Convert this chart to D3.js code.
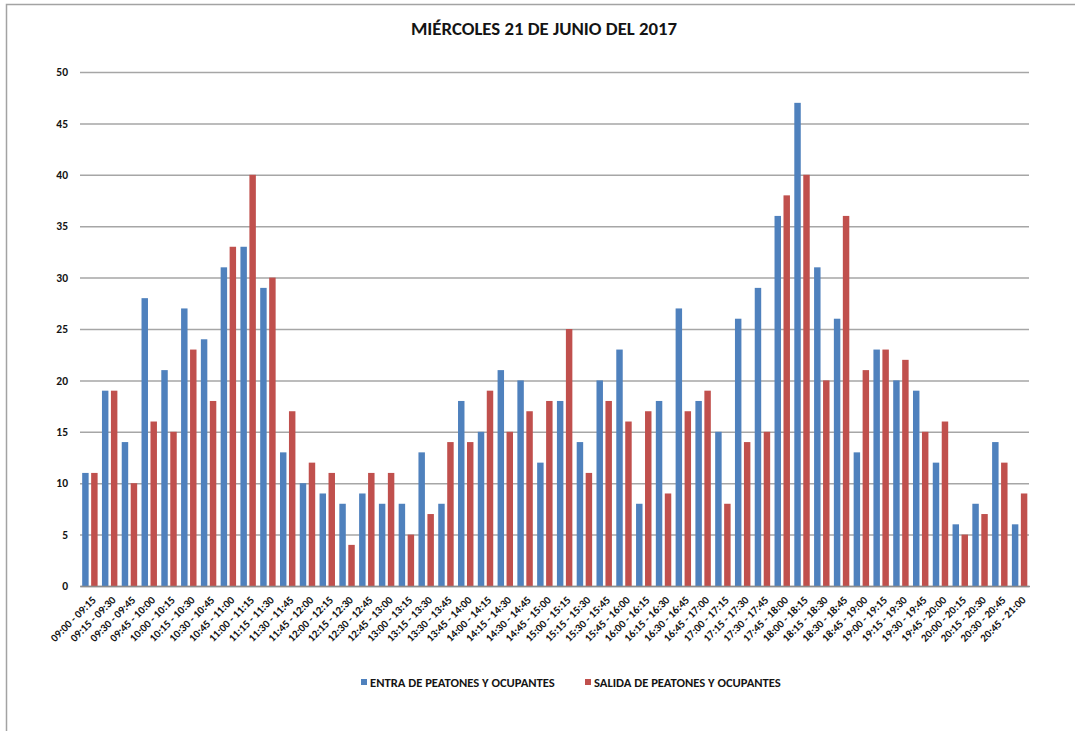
<!DOCTYPE html>
<html>
<head>
<meta charset="utf-8">
<script src="https://cdn.jsdelivr.net/npm/d3@7"></script>
<style>
  body { margin: 0; background: #fff; }
  svg text { font-family: Carlito, "Liberation Sans Narrow", "DejaVu Sans Condensed", sans-serif; font-weight: bold; fill: #141414; }
</style>
</head>
<body>
<div class="canvas"></div>
<script>
const categories = [
  '09:00 - 09:15', '09:15 - 09:30', '09:30 - 09:45', '09:45 - 10:00',
  '10:00 - 10:15', '10:15 - 10:30', '10:30 - 10:45', '10:45 - 11:00',
  '11:00 - 11:15', '11:15 - 11:30', '11:30 - 11:45', '11:45 - 12:00',
  '12:00 - 12:15', '12:15 - 12:30', '12:30 - 12:45', '12:45 - 13:00',
  '13:00 - 13:15', '13:15 - 13:30', '13:30 - 13:45', '13:45 - 14:00',
  '14:00 - 14:15', '14:15 - 14:30', '14:30 - 14:45', '14:45 - 15:00',
  '15:00 - 15:15', '15:15 - 15:30', '15:30 - 15:45', '15:45 - 16:00',
  '16:00 - 16:15', '16:15 - 16:30', '16:30 - 16:45', '16:45 - 17:00',
  '17:00 - 17:15', '17:15 - 17:30', '17:30 - 17:45', '17:45 - 18:00',
  '18:00 - 18:15', '18:15 - 18:30', '18:30 - 18:45', '18:45 - 19:00',
  '19:00 - 19:15', '19:15 - 19:30', '19:30 - 19:45', '19:45 - 20:00',
  '20:00 - 20:15', '20:15 - 20:30', '20:30 - 20:45', '20:45 - 21:00'
];

// entrada de peatones y ocupantes
const entrada = [11, 19, 14, 28, 21, 27, 24, 31, 33, 29, 13, 10,
                 9, 8, 9, 8, 8, 13, 8, 18, 15, 21, 20, 12,
                 18, 14, 20, 23, 8, 18, 27, 18, 15, 26, 29, 36,
                 47, 31, 26, 13, 23, 20, 19, 12, 6, 8, 14, 6];

// salida de peatones y ocupantes
const salida = [11, 19, 10, 16, 15, 23, 18, 33, 40, 30, 17, 12,
                11, 4, 11, 11, 5, 7, 14, 14, 19, 15, 17, 18,
                25, 11, 18, 16, 17, 9, 17, 19, 8, 14, 15, 38,
                40, 20, 36, 21, 23, 22, 15, 16, 5, 7, 12, 9];

const yTicks = [0, 5, 10, 15, 20, 25, 30, 35, 40, 45, 50];
const seriesNames = ['ENTRA DE PEATONES Y OCUPANTES', 'SALIDA DE PEATONES Y OCUPANTES'];
const seriesKeys = ['entrada', 'salida'];
const colours = ['#4f81bd', '#c0504d'];

const width = 1075, height = 731;
const margin = {top: 72, right: 46, bottom: 145, left: 80};

const svg = d3.select('.canvas').append('svg')
    .attr('width', width)
    .attr('height', height);

// frame round the chart (top and left edges only show)
svg.append('path')
    .attr('d', `M6.5,${height} V4.5 H${width}`)
    .attr('fill', 'none')
    .attr('stroke', '#a3a3a3')
    .attr('stroke-width', 1.5);

svg.append('text')
    .attr('x', 544)
    .attr('y', 35)
    .attr('text-anchor', 'middle')
    .style('font-size', '18.8px')
    .text('MIÉRCOLES 21 DE JUNIO DEL 2017');

const rows = categories.map((c, i) => ({cat: c, entrada: entrada[i], salida: salida[i]}));

const x0 = d3.scaleBand()
    .domain(categories)
    .range([margin.left, width - margin.right + 0.5])
    .paddingInner(0.22)
    .paddingOuter(0.11);

const x1 = d3.scaleBand()
    .domain(seriesKeys)
    .range([0, x0.bandwidth()])
    .paddingInner(0.28);

const y = d3.scaleLinear()
    .domain([0, 50])
    .range([height - margin.bottom, margin.top]);

// gridlines + y labels
const yAxis = svg.append('g')
    .attr('transform', `translate(${margin.left},0)`)
    .call(d3.axisLeft(y).tickValues(yTicks).tickSize(-(width - margin.right - margin.left)).tickPadding(12));
yAxis.select('.domain').remove();
yAxis.selectAll('line')
    .attr('stroke', '#a6a6a6')
    .attr('stroke-width', 1.5);
yAxis.selectAll('text')
    .style('font-size', '11.5px');

// bars
const groups = svg.append('g').selectAll('g')
    .data(rows)
    .enter()
    .append('g')
    .attr('transform', d => `translate(${x0(d.cat)},0)`);

groups.selectAll('rect')
    .data(d => seriesKeys.map((k, i) => ({key: k, value: d[k], colour: colours[i]})))
    .enter()
    .append('rect')
    .attr('x', d => x1(d.key))
    .attr('width', x1.bandwidth())
    .attr('y', d => y(d.value))
    .attr('height', d => y(0) - y(d.value))
    .attr('fill', d => d.colour);

// x axis
const xAxis = svg.append('g')
    .attr('transform', `translate(0,${y(0)})`)
    .call(d3.axisBottom(x0).tickSize(0).tickPadding(0));
xAxis.select('.domain')
    .attr('stroke', '#8c8c8c')
    .attr('stroke-width', 1.5);
xAxis.selectAll('text')
    .style('font-size', '11px')
    .attr('text-anchor', 'end')
    .attr('dy', '0.35em')
    .attr('transform', 'translate(4,12) rotate(-45)');

// legend
const legend = svg.append('g');
const legendX = [361, 585];
seriesNames.forEach((name, i) => {
  legend.append('rect')
      .attr('x', legendX[i])
      .attr('y', 679)
      .attr('width', 6)
      .attr('height', 6)
      .attr('fill', colours[i]);
  legend.append('text')
      .attr('x', legendX[i] + 9)
      .attr('y', 686.5)
      .style('font-size', '12.6px')
      .text(name);
});
</script>
</body>
</html>
